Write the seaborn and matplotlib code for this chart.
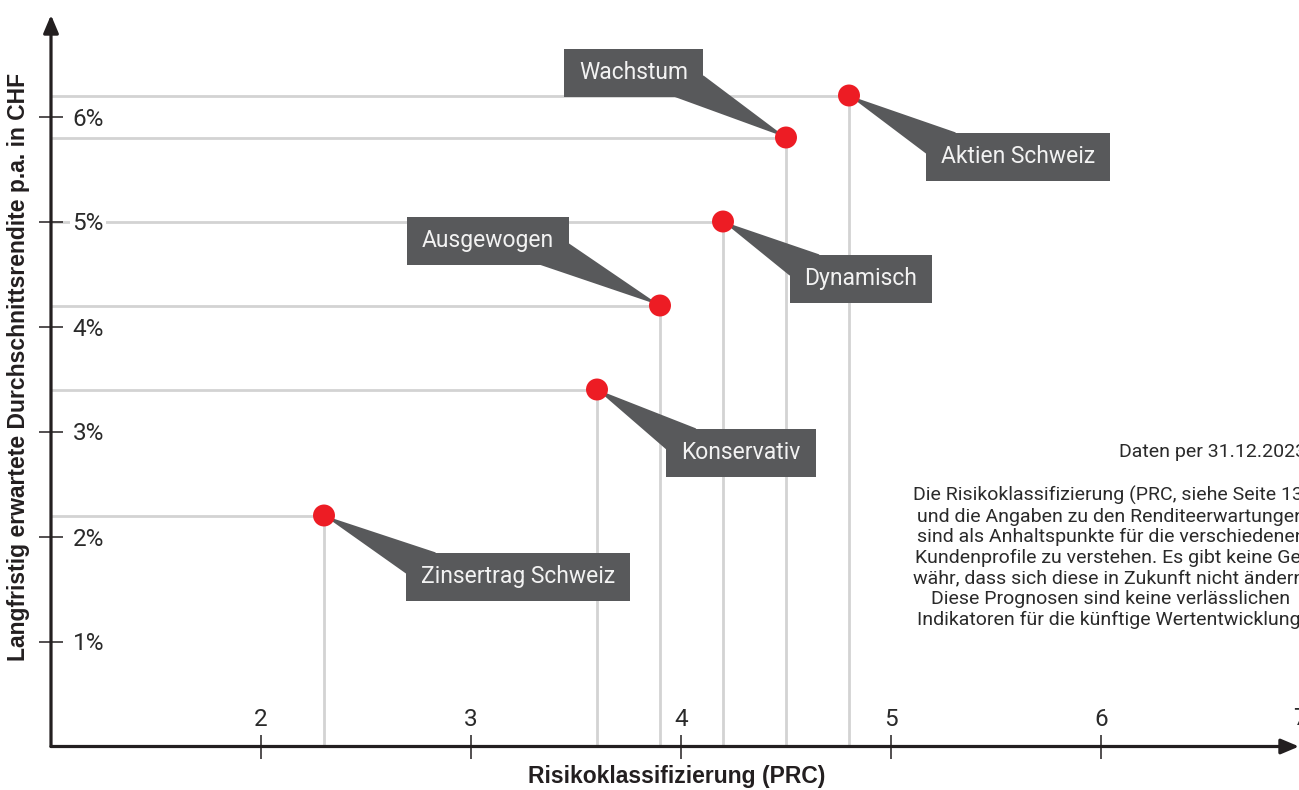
import matplotlib
matplotlib.use("Agg")
import matplotlib.pyplot as plt
import seaborn as sns
import pandas as pd
from matplotlib.patches import Rectangle, Polygon
from matplotlib.transforms import IdentityTransform, blended_transform_factory, offset_copy

# ---------------- data ----------------
profiles = ["Zinsertrag Schweiz", "Konservativ", "Ausgewogen", "Dynamisch", "Wachstum", "Aktien Schweiz"]
risk_prc = [2.3, 3.6, 3.9, 4.2, 4.5, 4.8]
expected_return = [2.2, 3.4, 4.2, 5.0, 5.8, 6.2]
x_ticks = [2, 3, 4, 5, 6]
x_tick_labels = ["2", "3", "4", "5", "6"]
x_edge_label = "7"
y_ticks = [1, 2, 3, 4, 5, 6]
y_tick_labels = ["1%", "2%", "3%", "4%", "5%", "6%"]
x_title = "Risikoklassifizierung (PRC)"
y_title = "Langfristig erwartete Durchschnittsrendite p.a. in CHF"
note_date = "Daten per 31.12.2023"
note_lines = [
    "Die Risikoklassifizierung (PRC, siehe Seite 13)",
    "und die Angaben zu den Renditeerwartungen",
    "sind als Anhaltspunkte für die verschiedenen",
    "Kundenprofile zu verstehen. Es gibt keine Ge-",
    "währ, dass sich diese in Zukunft nicht ändern.",
    "Diese Prognosen sind keine verlässlichen",
    "Indikatoren für die künftige Wertentwicklung.",
]

# ---------------- layout (pixels) ----------------
W, H = 1299, 790
label_offsets = {  # box centre offset from the point, pixels (right, up)
    "Zinsertrag Schweiz": (194, -61),
    "Konservativ": (144, -63),
    "Ausgewogen": (-172, 65),
    "Dynamisch": (138, -57),
    "Wachstum": (-152, 65),
    "Aktien Schweiz": (169, -61),
}
BOX_PADX, BOX_H = 15, 48
WEDGE_H, WEDGE_V = 30, 21

RED = "#ed1c24"
BOXC = "#58595b"
GRIDC = "#d3d3d3"
AXC = "#231f20"
TXT = "#2a2a2a"

df = pd.DataFrame({"profile": profiles, "risk": risk_prc, "ret": expected_return})

sns.set_theme(style="white")
plt.rcParams["font.family"] = ["Roboto", "DejaVu Sans"]

fig = plt.figure(figsize=(W / 100, H / 100), dpi=100)
x0, y0 = 51, 746.5          # origin pixel (from top-left)
ytop = 15
ax = fig.add_axes([x0 / W, (H - y0) / H, (W - x0) / W, (y0 - ytop) / H])
for s in ax.spines.values():
    s.set_visible(False)
ax.set_facecolor("white")

# ticks
ax.set_xticks(x_ticks)
ax.set_xticklabels(x_tick_labels)
ax.set_yticks(y_ticks)
ax.set_yticklabels(y_tick_labels)
ax.set_xlim(1, 1 + (W - x0) / 210)
ax.set_ylim(0, (y0 - ytop) / 105)

# guide lines
xmin = ax.get_xlim()[0]
ax.hlines(df["ret"], xmin, df["risk"], color=GRIDC, lw=2.0, zorder=1)
ax.vlines(df["risk"], 0, df["ret"], color=GRIDC, lw=2.0, zorder=1)

# points
sns.scatterplot(data=df, x="risk", y="ret", color=RED, s=250, edgecolor="none",
                zorder=6, ax=ax, legend=False)
ax.set_xlabel("")
ax.set_ylabel("")
ax.set_xlim(1, 1 + (W - x0) / 210)
ax.set_ylim(0, (y0 - ytop) / 105)

# axes arrows
arrow_kw = dict(arrowstyle="-|>,head_length=0.9,head_width=0.38", lw=2.3, color=AXC,
                shrinkA=0, shrinkB=0)
ax.annotate("", xy=(1, 0), xytext=(0, 0), xycoords="axes fraction",
            textcoords="axes fraction", arrowprops=arrow_kw, zorder=10, annotation_clip=False)
ax.annotate("", xy=(0, 1), xytext=(0, 0), xycoords="axes fraction",
            textcoords="axes fraction", arrowprops=arrow_kw, zorder=10, annotation_clip=False)

ax.tick_params(axis="both", direction="inout", length=17, width=1.1, colors=AXC,
               labelsize=17.5, labelcolor=TXT, bottom=True, left=True)
ax.tick_params(axis="x", pad=-20)
ax.tick_params(axis="y", pad=-24)
ax.xaxis.set_zorder(7)
ax.yaxis.set_zorder(7)
for lab in ax.get_xticklabels():
    lab.set_verticalalignment("bottom")
for lab in ax.get_yticklabels():
    lab.set_horizontalalignment("left")
    lab.set_bbox(dict(facecolor="white", edgecolor="none", pad=1.5))

# partially visible "7" at the right edge (as in the cropped original)
edge_tr = offset_copy(blended_transform_factory(ax.transAxes, ax.transAxes), fig=fig,
                      x=-6, y=0, units="dots")
ax.text(1.0, 16.5 / (y0 - ytop), x_edge_label, transform=edge_tr, ha="left", va="bottom",
        fontsize=17.5, color=TXT, clip_on=False)

# axis titles
fig.text(677 / W, 1 - 777 / H, x_title, ha="center", va="center", fontsize=16.5,
         fontweight="bold", family=["Liberation Sans", "DejaVu Sans"], color=AXC)
fig.text(19 / W, 1 - 367 / H, y_title, ha="center", va="center", rotation=90,
         fontsize=16.5, fontweight="bold", family=["Liberation Sans", "DejaVu Sans"], color=AXC)

# note
fig.text(1306 / W, 1 - 452 / H, note_date, ha="right", va="center", fontsize=14,
         color=TXT)
fig.text(1111 / W, 1 - 486 / H, "\n".join(note_lines), ha="center", va="top",
         fontsize=14, color=TXT, linespacing=1.18, multialignment="center")

# callouts
fig.canvas.draw()
renderer = fig.canvas.get_renderer()
ident = IdentityTransform()
for name, xv, yv in zip(profiles, risk_prc, expected_return):
    px, py = ax.transData.transform((xv, yv))
    dx, dy = label_offsets[name]
    cx, cy = px + dx, py + dy
    t = ax.text(cx, cy, name, transform=ident, ha="center", va="center",
                fontsize=16.5, color="#f2f2f2", zorder=5, clip_on=False)
    bb = t.get_window_extent(renderer)
    bw = bb.width + 2 * BOX_PADX
    left, right = cx - bw / 2, cx + bw / 2
    bot, top = cy - BOX_H / 2, cy + BOX_H / 2
    ax.add_patch(Rectangle((left, bot), bw, BOX_H, transform=ident, facecolor=BOXC,
                           edgecolor="none", zorder=4, clip_on=False))
    cxr = left if dx > 0 else right
    cyr = top if dy < 0 else bot
    sx = 1 if dx > 0 else -1
    sy = -1 if dy < 0 else 1
    pA = (cxr + sx * WEDGE_H, cyr)
    pB = (cxr, cyr + sy * WEDGE_V)
    ax.add_patch(Polygon([(px, py), pA, pB], closed=True, transform=ident,
                         facecolor=BOXC, edgecolor="none", zorder=3, clip_on=False))

fig.savefig("out.png", dpi=100)
